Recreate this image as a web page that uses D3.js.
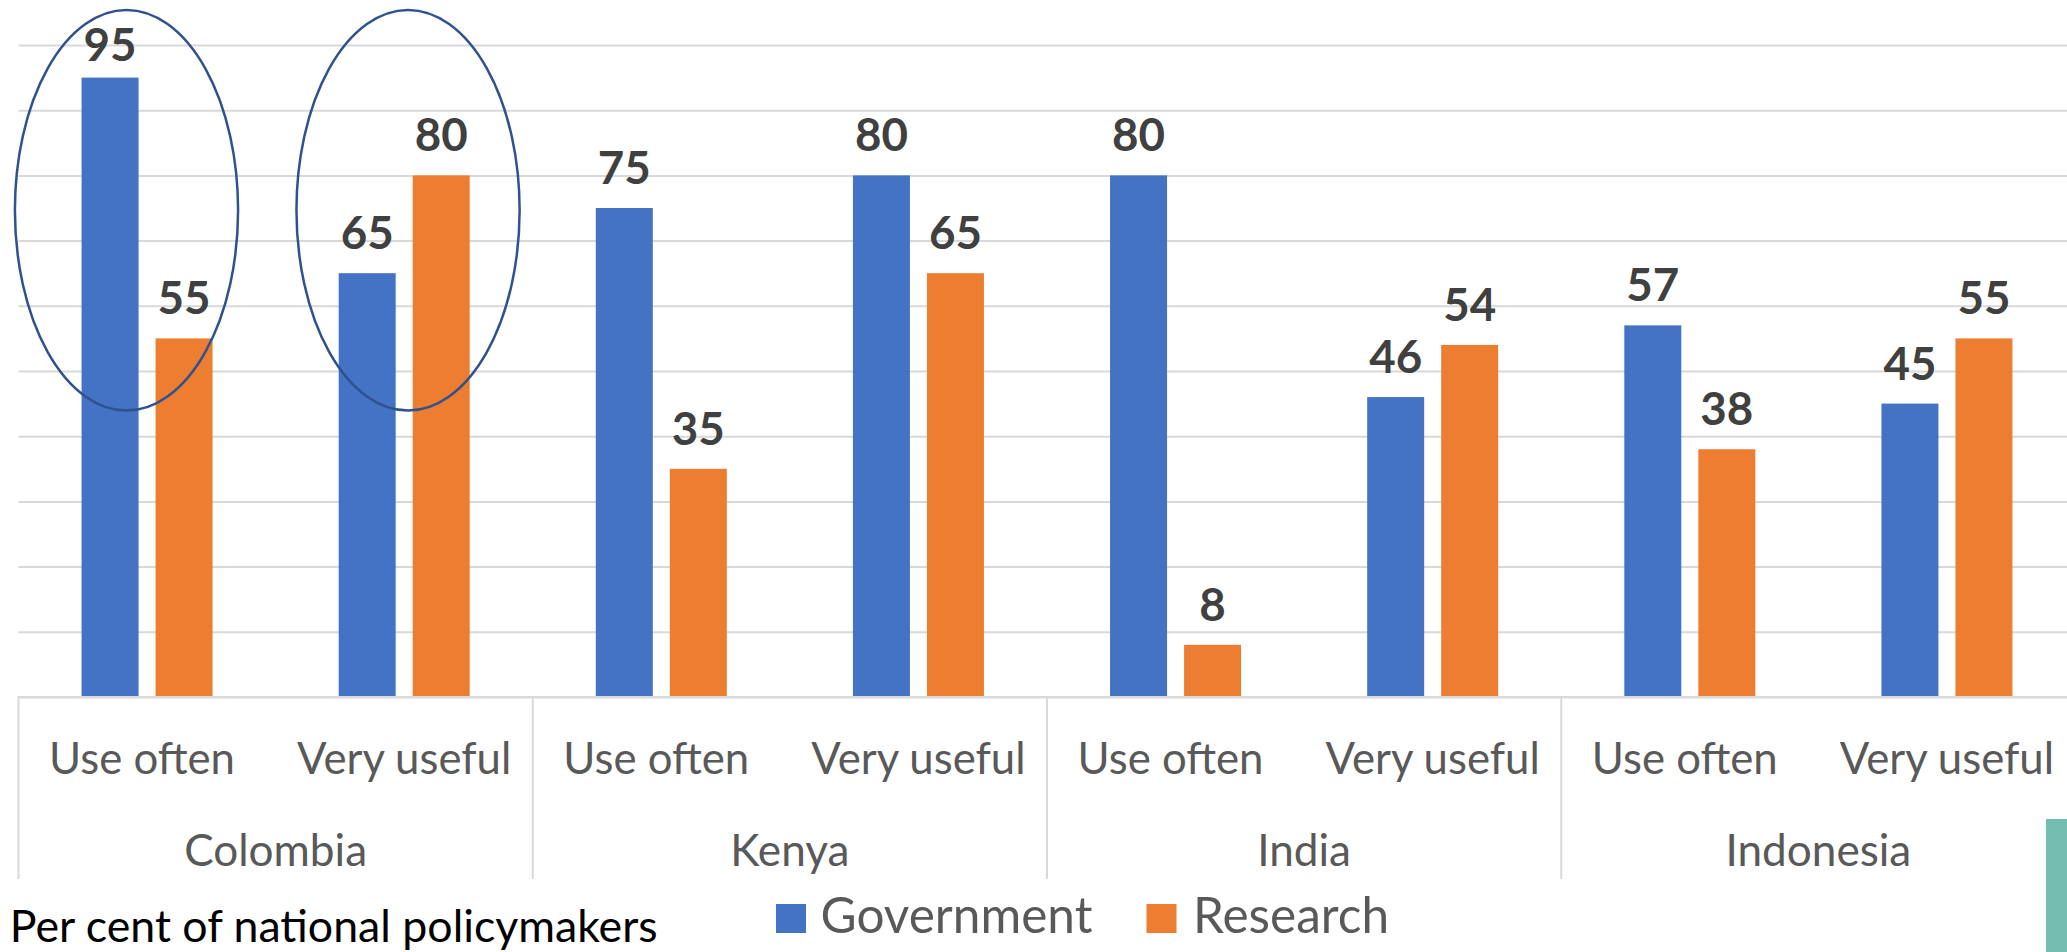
<!DOCTYPE html>
<html>
<head>
<meta charset="utf-8">
<script src="https://cdn.jsdelivr.net/npm/d3@7"></script>
<style>
  html, body { margin: 0; padding: 0; background: #ffffff; overflow: hidden; }
  svg { display: block; font-family: Lato, "Open Sans", sans-serif; }
</style>
</head>
<body>
<svg id="chart" width="2067" height="952"></svg>
<script>
// ---- data ----
const countries = ["Colombia", "Kenya", "India", "Indonesia"];
const measures = ["Use often", "Very useful"];
const seriesNames = ["Government", "Research"];
const government = [95, 65, 75, 80, 80, 46, 57, 45];
const research = [55, 80, 35, 65, 8, 54, 38, 55];
const yTicks = [0, 10, 20, 30, 40, 50, 60, 70, 80, 90, 100];
const titleText = "Per cent of national policymakers";
// highlighted sub-categories (annotation ellipses)
const highlights = [
  { country: "Colombia", measure: "Use often", shift: -0.08 },
  { country: "Colombia", measure: "Very useful", shift: 0.015 }
];

(function () {
// ---- build rows ----
const rows = [];
countries.forEach((c, ci) => measures.forEach((m, mi) => {
  const i = ci * measures.length + mi;
  rows.push({ key: c + "|" + m, country: c, measure: m, Government: government[i], Research: research[i] });
}));

const plotLeft = 18.5, plotRight = 2075.5, plotTop = 45, plotBottom = 697;
const colors = { Government: "#4472C4", Research: "#ED7D31" };

const svg = d3.select("#chart");

const x0 = d3.scaleBand().domain(rows.map(d => d.key)).range([plotLeft, plotRight]).padding(0);
const x1 = d3.scaleBand().domain(seriesNames).range([0, x0.bandwidth()])
  .paddingInner(0.23).paddingOuter(0.852);
const y = d3.scaleLinear().domain([0, 100]).range([plotBottom, plotTop]);

// font fitting helper
function fitSize(text, target, weight) {
  const t = svg.append("text").attr("font-size", 100).attr("font-weight", weight || 400).text(text);
  const len = t.node().getComputedTextLength();
  t.remove();
  return 100 * target / len;
}
const valueSize = fitSize("75", 53, 700);
const subSize = fitSize("Use often", 186, 400);
const countrySize = fitSize("Colombia", 183, 400);
const legendSize = fitSize("Government", 272, 400);
const titleSize = fitSize(titleText, 648, 400);

// gridlines
const grid = svg.append("g").attr("transform", `translate(${plotLeft},0)`)
  .call(d3.axisLeft(y).tickValues(yTicks).tickSize(-(plotRight - plotLeft)).tickFormat(""));
grid.select(".domain").remove();
grid.selectAll(".tick line").attr("stroke", "#d9d9d9").attr("stroke-width", 2);

// bars
const groups = svg.append("g").selectAll("g").data(rows).join("g")
  .attr("transform", d => `translate(${x0(d.key)},0)`);
groups.selectAll("rect").data(d => seriesNames.map(s => ({ s, v: d[s] }))).join("rect")
  .attr("x", d => x1(d.s)).attr("width", x1.bandwidth())
  .attr("y", d => y(d.v)).attr("height", d => y(0) - y(d.v))
  .attr("fill", d => colors[d.s]);

// value labels
groups.selectAll("text").data(d => seriesNames.map(s => ({ s, v: d[s] }))).join("text")
  .attr("x", d => x1(d.s) + x1.bandwidth() / 2)
  .attr("y", d => Math.max(y(d.v) - 24, plotTop + 16))
  .attr("text-anchor", "middle")
  .attr("font-weight", 700).attr("font-size", valueSize)
  .attr("fill", "#404040")
  .text(d => d.v);

// category axis: baseline + dividers
const axisBottom = 879;
svg.append("line").attr("x1", plotLeft - 1).attr("x2", plotRight).attr("y1", y(0)).attr("y2", y(0))
  .attr("stroke", "#d9d9d9").attr("stroke-width", 2);
const dividerXs = countries.map(c => x0(c + "|" + measures[0])).concat([plotRight]);
svg.append("g").selectAll("line").data(dividerXs).join("line")
  .attr("x1", d => d).attr("x2", d => d).attr("y1", y(0)).attr("y2", axisBottom)
  .attr("stroke", "#d9d9d9").attr("stroke-width", 2);

// sub-category labels
svg.append("g").selectAll("text").data(rows).join("text")
  .attr("x", d => x0(d.key) + x0.bandwidth() / 2 - (d.measure === measures[0] ? 5 : 0))
  .attr("y", 774)
  .attr("text-anchor", "middle").attr("font-size", subSize).attr("fill", "#595959")
  .text(d => d.measure);

// country labels
svg.append("g").selectAll("text").data(countries).join("text")
  .attr("x", c => (x0(c + "|" + measures[0]) + x0(c + "|" + measures[measures.length - 1]) + x0.bandwidth()) / 2)
  .attr("y", 866)
  .attr("text-anchor", "middle").attr("font-size", countrySize).attr("fill", "#595959")
  .text(c => c);

// annotation ellipses
const yTopVal = y.invert(10), yBotVal = y.invert(410.5);
svg.append("g").selectAll("ellipse").data(highlights).join("ellipse")
  .attr("cx", d => x0(d.country + "|" + d.measure) + x0.bandwidth() * (0.5 + d.shift))
  .attr("cy", (y(yTopVal) + y(yBotVal)) / 2)
  .attr("rx", x0.bandwidth() * 0.434)
  .attr("ry", (y(yBotVal) - y(yTopVal)) / 2)
  .attr("fill", "none").attr("stroke", "#2F528F").attr("stroke-width", 2.5);

// legend
const legendItems = [
  { s: "Government", sx: 776, tx: 820.5 },
  { s: "Research", sx: 1146.5, tx: 1193 }
];
const lg = svg.append("g");
lg.selectAll("rect").data(legendItems).join("rect")
  .attr("x", d => d.sx).attr("y", 904).attr("width", 30).attr("height", 29)
  .attr("fill", d => colors[d.s]);
lg.selectAll("text").data(legendItems).join("text")
  .attr("x", d => d.tx).attr("y", 933)
  .attr("font-size", legendSize).attr("fill", "#595959")
  .text(d => d.s);

// title / note
svg.append("text").attr("x", 9.8).attr("y", 941.5)
  .attr("font-size", titleSize).attr("fill", "#000000").text(titleText);

// decorative teal block at lower right
svg.append("rect").attr("x", 2046).attr("y", 819).attr("width", 21).attr("height", 133)
  .attr("fill", "#76BDB1");
})();
</script>
</body>
</html>
